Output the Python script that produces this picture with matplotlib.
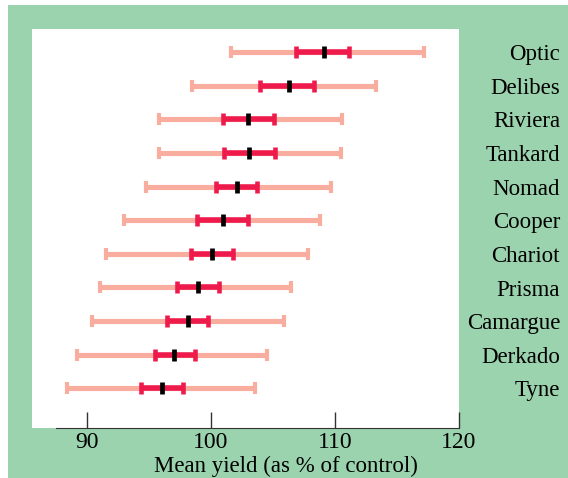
import numpy as np
import matplotlib
matplotlib.use('Agg')
import matplotlib.pyplot as plt
import matplotlib.transforms as mtransforms
from matplotlib.patches import Rectangle

# varieties, bottom to top
varieties = ['Tyne', 'Derkado', 'Camargue', 'Prisma', 'Chariot', 'Cooper',
             'Nomad', 'Tankard', 'Riviera', 'Delibes', 'Optic']
mean_yield = [96.1, 97.0, 98.2, 99.0, 100.1, 101.0, 102.1, 103.1, 103.0, 106.3, 109.1]
inner_lo = [94.4, 95.5, 96.5, 97.3, 98.4, 98.9, 100.4, 101.1, 101.0, 104.0, 106.9]
inner_hi = [97.8, 98.7, 99.8, 100.7, 101.8, 103.0, 103.7, 105.2, 105.1, 108.3, 111.1]
outer_lo = [88.4, 89.2, 90.4, 91.1, 91.6, 93.0, 94.8, 95.8, 95.8, 98.5, 101.6]
outer_hi = [103.6, 104.5, 105.9, 106.5, 107.8, 108.8, 109.7, 110.5, 110.6, 113.3, 117.2]
xticks = [90, 100, 110, 120]

green = '#9bd3ae'
salmon = '#f9ad9f'
crimson = '#ee1a4b'
serif = ['Liberation Serif', 'DejaVu Serif']

plt.rcParams['font.family'] = serif

fig = plt.figure(figsize=(5.68, 4.78), dpi=100, facecolor='white')
bg = Rectangle((8/568, 0), 560/568, 473/478, transform=fig.transFigure,
               facecolor=green, edgecolor='none', zorder=-10)
fig.add_artist(bg)

ax = fig.add_axes([32/568, 50/478, 427/568, 399/478])
ax.set_facecolor('white')

y = np.arange(len(varieties))
m = np.array(mean_yield)

ax.errorbar(m, y, xerr=[m - np.array(outer_lo), np.array(outer_hi) - m], fmt='none',
            ecolor=salmon, elinewidth=3.7, capsize=4.4, capthick=3.0, zorder=2)
ax.errorbar(m, y, xerr=[m - np.array(inner_lo), np.array(inner_hi) - m], fmt='none',
            ecolor=crimson, elinewidth=4.0, capsize=4.4, capthick=3.3, zorder=3)
ax.plot(m, y, linestyle='none', marker='|', markersize=9.0, markeredgewidth=3.4,
        color='black', zorder=4)

ax.set_xlim(85.6, 120.0)
ax.set_ylim(-1.18, 10.69)

for s in ['top', 'left', 'right']:
    ax.spines[s].set_visible(False)
ax.spines['bottom'].set_bounds(87.5, 120)
ax.spines['bottom'].set_color('#333333')
ax.set_yticks([])
ax.set_xticks(xticks)
ax.set_xticklabels([str(t) for t in xticks], family=serif)
ax.tick_params(axis='x', direction='in', length=11.5, width=1, color='#333333',
               labelsize=17, pad=3)

trans = mtransforms.blended_transform_factory(fig.transFigure, ax.transData)
for i, name in enumerate(varieties):
    ax.text(560/568, i - 0.24, name, transform=trans, ha='right', va='baseline',
            fontsize=16.5, family=serif, clip_on=False)

fig.text(285.5/568, 6/478, 'Mean yield (as % of control)', ha='center', va='baseline',
         fontsize=16.5, family=serif)

fig.savefig('out.png', dpi=100, facecolor='white')
